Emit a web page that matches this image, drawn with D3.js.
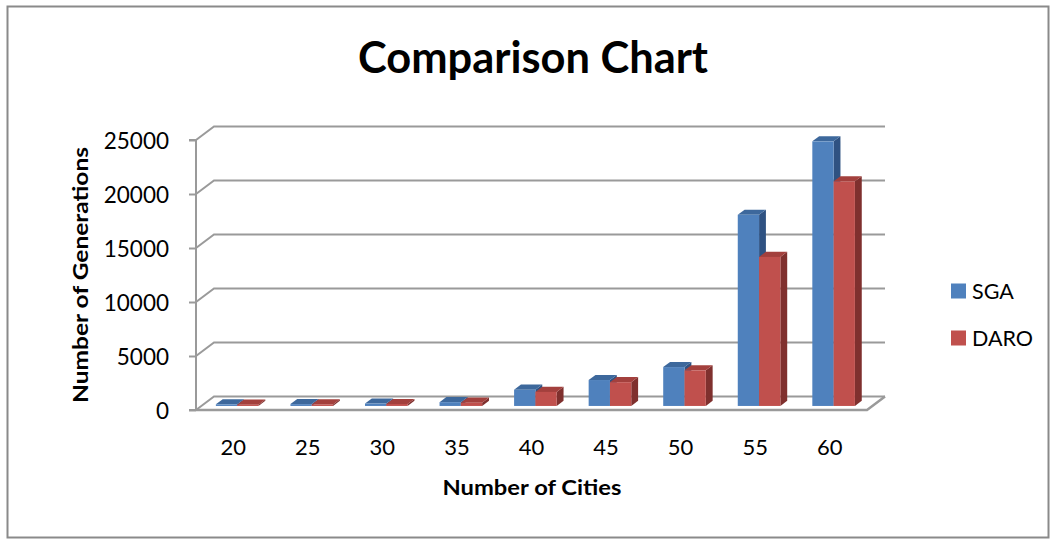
<!DOCTYPE html>
<html>
<head>
<meta charset="utf-8">
<script src="https://cdn.jsdelivr.net/npm/d3@7/dist/d3.min.js"></script>
<style>
  html, body { margin: 0; padding: 0; background: #fff; }
  svg { display: block; font-family: Lato, "Open Sans", sans-serif; }
</style>
</head>
<body>
<svg id="chart" width="1056" height="539"></svg>
<script>
// ---- data ----
const categories = ["20", "25", "30", "35", "40", "45", "50", "55", "60"];
const seriesNames = ["SGA", "DARO"];
const sgaValues  = [150, 170, 220, 350, 1500, 2400, 3600, 17700, 24500];
const daroValues = [120, 140, 180, 300, 1300, 2200, 3300, 13800, 20800];
const yTicks = [0, 5000, 10000, 15000, 20000, 25000];

const title = "Comparison Chart";
const xTitle = "Number of Cities";
const yTitle = "Number of Generations";

// ---- layout ----
const svg = d3.select("#chart");
const frontLeft = 196, frontRight = 867;
const frontBottom = 410, frontTop = 140;
const depthX = 18, depthY = -13.5;          // full depth offset
const barDepth0 = 0.3, barDepth1 = 0.68;    // bar depth fraction

const colors = {
  SGA:  { front: "#4F81BD", top: "#3d689c", side: "#2f5282" },
  DARO: { front: "#C0504D", top: "#a3403d", side: "#7f302e" }
};

const x = d3.scaleBand().domain(categories).range([frontLeft, frontRight]);
const y = d3.scaleLinear().domain([0, 25000]).range([frontBottom, frontTop]);

const barW = x.bandwidth() / 3.5;
const xs = d3.scaleBand().domain(seriesNames).range([0, barW * 2]);
const groupOffset = (x.bandwidth() - barW * 2) / 2 - 1.5;

// outer border
svg.append("rect")
  .attr("x", 7.5).attr("y", 6.5).attr("width", 1041).attr("height", 531)
  .attr("fill", "none").attr("stroke", "#8a8a8a").attr("stroke-width", 2);

const gridColor = "#9a9a9a";
const grid = svg.append("g");

// back wall gridlines + side wall diagonals
yTicks.forEach(t => {
  const yf = y(t);
  grid.append("path")
    .attr("d", `M${frontLeft},${yf} L${frontLeft + depthX},${yf + depthY} L${frontRight + depthX},${yf + depthY}`)
    .attr("fill", "none").attr("stroke", gridColor).attr("stroke-width", 2);
});

// floor
grid.append("path")
  .attr("d", `M${frontLeft},${frontBottom} L${frontRight},${frontBottom} L${frontRight + depthX},${frontBottom + depthY}`)
  .attr("fill", "none").attr("stroke", gridColor).attr("stroke-width", 2.5);

// vertical axis line + ticks
const axis = d3.axisLeft(y).tickValues(yTicks).tickSize(7).tickFormat(d => d);
const axisG = svg.append("g").attr("transform", `translate(${frontLeft},0)`).call(axis);
axisG.select(".domain").attr("stroke", gridColor).attr("stroke-width", 2)
  .attr("d", `M-7,${frontTop}H0V${frontBottom}H-7`);
axisG.selectAll(".tick line").attr("stroke", gridColor).attr("stroke-width", 2);
axisG.selectAll(".tick text")
  .attr("x", -27).attr("dy", "0.36em")
  .attr("fill", "#000").style("font-size", "22.5px").style("font-family", "Lato, sans-serif");

// bars
const barsG = svg.append("g");
const seriesData = { SGA: sgaValues, DARO: daroValues };
categories.forEach((c, i) => {
  seriesNames.forEach(s => {
    const v = seriesData[s][i];
    const x0 = x(c) + groupOffset + xs(s) + barDepth0 * depthX;
    const x1 = x0 + barW;
    const yb = y(0) + barDepth0 * depthY;
    const yt = y(v) + barDepth0 * depthY;
    const ddx = (barDepth1 - barDepth0) * depthX;
    const ddy = (barDepth1 - barDepth0) * depthY;
    const col = colors[s];
    barsG.append("path")
      .attr("d", `M${x1},${yt} L${x1 + ddx},${yt + ddy} L${x1 + ddx},${yb + ddy} L${x1},${yb} Z`)
      .attr("fill", col.side);
    barsG.append("path")
      .attr("d", `M${x0},${yt} L${x0 + ddx},${yt + ddy} L${x1 + ddx},${yt + ddy} L${x1},${yt} Z`)
      .attr("fill", col.top);
    barsG.append("rect")
      .attr("x", x0).attr("y", yt).attr("width", barW).attr("height", yb - yt)
      .attr("fill", col.front);
  });
});

// category labels
svg.append("g").selectAll("text").data(categories).join("text")
  .attr("x", d => x(d) + x.bandwidth() / 2)
  .attr("y", 447).attr("dy", "0.36em")
  .attr("text-anchor", "middle")
  .style("font-size", "22px")
  .text(d => d);

// title
svg.append("text")
  .attr("x", 533).attr("y", 73)
  .attr("text-anchor", "middle")
  .attr("textLength", 350).attr("lengthAdjust", "spacingAndGlyphs")
  .style("font-size", "43px").style("font-weight", "bold")
  .text(title);

// axis titles
svg.append("text")
  .attr("x", 532).attr("y", 495)
  .attr("text-anchor", "middle")
  .attr("textLength", 179).attr("lengthAdjust", "spacingAndGlyphs")
  .style("font-size", "21.5px").style("font-weight", "bold")
  .text(xTitle);

svg.append("text")
  .attr("transform", "translate(88,275) rotate(-90)")
  .attr("text-anchor", "middle")
  .attr("textLength", 256).attr("lengthAdjust", "spacingAndGlyphs")
  .style("font-size", "21.5px").style("font-weight", "bold")
  .text(yTitle);

// legend
const legend = svg.append("g");
seriesNames.forEach((s, i) => {
  const ly = 291 + i * 47;
  legend.append("rect")
    .attr("x", 951).attr("y", ly - 7.5).attr("width", 15).attr("height", 15)
    .attr("fill", colors[s].front);
  legend.append("text")
    .attr("x", 972).attr("y", ly).attr("dy", "0.36em")
    .style("font-size", "21.5px")
    .text(s);
});
</script>
</body>
</html>
